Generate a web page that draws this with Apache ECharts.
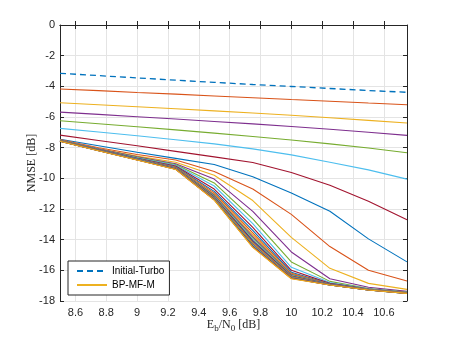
<!DOCTYPE html>
<html>
<head>
<meta charset="utf-8">
<title>NMSE vs Eb/N0</title>
<script src="https://cdn.jsdelivr.net/npm/echarts@6/dist/echarts.min.js"></script>
<style>
html, body { margin: 0; padding: 0; background: #fff; }
#main { width: 450px; height: 338px; }
</style>
</head>
<body>
<div id="main"></div>
<script>
// Eb/N0 points (dB)
var snr = [8.5, 8.75, 9, 9.25, 9.5, 9.75, 10, 10.25, 10.5, 10.75];
var xTicks = [8.6, 8.8, 9, 9.2, 9.4, 9.6, 9.8, 10, 10.2, 10.4, 10.6];

// dashed reference curve
var initialTurbo = [-3.15, -3.3, -3.45, -3.6, -3.74, -3.88, -4.01, -4.14, -4.27, -4.39];

// BP-MF-M, one row per iteration
var bpmfm = [
  [-4.17, -4.28, -4.4, -4.51, -4.63, -4.74, -4.86, -4.97, -5.09, -5.2],
  [-5.07, -5.2, -5.33, -5.46, -5.6, -5.74, -5.89, -6.05, -6.22, -6.39],
  [-5.68, -5.83, -5.98, -6.13, -6.29, -6.45, -6.62, -6.8, -6.99, -7.2],
  [-6.24, -6.44, -6.64, -6.84, -7.05, -7.27, -7.5, -7.75, -8.02, -8.33],
  [-6.74, -6.98, -7.22, -7.48, -7.75, -8.08, -8.47, -8.95, -9.45, -10.05],
  [-7.18, -7.53, -7.88, -8.24, -8.6, -8.97, -9.62, -10.45, -11.5, -12.7],
  [-7.45, -7.88, -8.3, -8.7, -9.1, -9.9, -10.95, -12.15, -13.95, -15.45],
  [-7.47, -8.0, -8.45, -8.8, -9.55, -10.7, -12.35, -14.45, -16.0, -16.7],
  [-7.5, -8.05, -8.55, -8.95, -9.8, -11.45, -13.85, -15.87, -16.85, -17.24],
  [-7.5, -8.08, -8.6, -9.05, -10.05, -12.15, -14.8, -16.55, -17.1, -17.37],
  [-7.52, -8.1, -8.63, -9.1, -10.3, -12.65, -15.45, -16.72, -17.18, -17.42],
  [-7.52, -8.12, -8.66, -9.15, -10.5, -12.95, -15.8, -16.8, -17.2, -17.44],
  [-7.53, -8.13, -8.69, -9.2, -10.7, -13.2, -16.0, -16.85, -17.22, -17.45],
  [-7.54, -8.14, -8.71, -9.24, -10.85, -13.4, -16.12, -16.88, -17.24, -17.46],
  [-7.54, -8.15, -8.73, -9.27, -10.95, -13.55, -16.2, -16.9, -17.25, -17.47],
  [-7.55, -8.15, -8.74, -9.29, -11.03, -13.68, -16.24, -16.91, -17.25, -17.47],
  [-7.55, -8.16, -8.74, -9.3, -11.09, -13.8, -16.28, -16.91, -17.26, -17.48],
  [-7.55, -8.16, -8.75, -9.31, -11.14, -13.9, -16.31, -16.92, -17.26, -17.48],
  [-7.56, -8.17, -8.75, -9.32, -11.18, -13.98, -16.34, -16.92, -17.26, -17.48],
  [-7.56, -8.17, -8.76, -9.33, -11.22, -14.06, -16.37, -16.93, -17.27, -17.48],
  [-7.56, -8.17, -8.76, -9.34, -11.25, -14.13, -16.39, -16.93, -17.27, -17.49],
  [-7.57, -8.18, -8.77, -9.35, -11.28, -14.2, -16.41, -16.94, -17.27, -17.49],
  [-7.57, -8.18, -8.77, -9.36, -11.3, -14.25, -16.43, -16.94, -17.27, -17.49],
  [-7.57, -8.18, -8.78, -9.37, -11.32, -14.3, -16.45, -16.94, -17.28, -17.49],
  [-7.57, -8.19, -8.78, -9.38, -11.34, -14.34, -16.47, -16.95, -17.28, -17.5],
  [-7.58, -8.19, -8.78, -9.39, -11.36, -14.38, -16.49, -16.95, -17.28, -17.5],
  [-7.58, -8.19, -8.79, -9.4, -11.38, -14.42, -16.5, -16.95, -17.28, -17.5],
  [-7.58, -8.2, -8.79, -9.4, -11.39, -14.45, -16.52, -16.96, -17.28, -17.5],
  [-7.58, -8.2, -8.8, -9.41, -11.41, -14.48, -16.53, -16.96, -17.28, -17.5],
  [-7.58, -8.2, -8.8, -9.42, -11.42, -14.5, -16.55, -16.96, -17.28, -17.5]
];

// matlab default colour order
var colorOrder = ['#0072BD', '#D95319', '#EDB120', '#7E2F8E', '#77AC30', '#4DBEEE', '#A2142F'];

var axisColor = '#262626';
var gridColor = '#e4e4e4';
var sans = 'Liberation Sans, Arial, sans-serif';
var serif = 'Liberation Serif, Times New Roman, serif';

function pairs(ys) {
  return snr.map(function (x, i) { return [x, ys[i]]; });
}

var series = [{
  name: 'Initial-Turbo',
  type: 'line',
  data: pairs(initialTurbo),
  symbol: 'none',
  color: colorOrder[0],
  lineStyle: { width: 1.3, type: [6, 4] }
}];

bpmfm.forEach(function (row, k) {
  var last = k == bpmfm.length - 1;
  series.push({
    name: last ? 'BP-MF-M' : 'iter' + (k + 1),
    type: 'line',
    data: pairs(row),
    symbol: 'none',
    color: colorOrder[(k + 1) % 7],
    lineStyle: { width: 1.1 }
  });
});

var chart = echarts.init(document.getElementById('main'));
var option = {
  animation: false,
  backgroundColor: '#fff',
  grid: { left: 60, right: 43, top: 25, bottom: 37 },
  legend: {
    data: ['Initial-Turbo', 'BP-MF-M'],
    orient: 'vertical',
    left: 68,
    top: 261,
    backgroundColor: '#fff',
    borderColor: axisColor,
    borderWidth: 1,
    borderRadius: 0,
    padding: [5, 5, 5, 8],
    itemWidth: 30,
    itemHeight: 10,
    itemGap: 4,
    itemStyle: { opacity: 0 },
    textStyle: { fontFamily: sans, fontSize: 10, color: '#000' }
  },
  xAxis: [{
    type: 'value',
    min: 8.5,
    max: 10.75,
    name: '{n|E}{s|b}{n|/N}{s|0}{n| [dB]}',
    nameLocation: 'middle',
    nameGap: 16,
    nameMoveOverlap: false,
    nameTextStyle: {
      rich: {
        n: { fontFamily: serif, fontSize: 12, color: axisColor, lineHeight: 14 },
        s: { fontFamily: serif, fontSize: 9, color: axisColor, padding: [7, 0, 0, 0] }
      }
    },
    axisLine: { lineStyle: { color: axisColor, width: 1 } },
    axisTick: { inside: true, length: 4, customValues: xTicks, lineStyle: { color: axisColor } },
    axisLabel: {
      customValues: xTicks,
      margin: 6,
      fontFamily: sans,
      fontSize: 11,
      color: axisColor,
      formatter: function (v) { return String(+v.toFixed(1)); }
    },
    splitLine: { show: true, lineStyle: { color: gridColor, width: 1 } }
  }, {
    type: 'value',
    position: 'top',
    min: 8.5,
    max: 10.75,
    axisLine: { lineStyle: { color: axisColor, width: 1 } },
    axisTick: { inside: true, length: 4, customValues: xTicks, lineStyle: { color: axisColor } },
    axisLabel: { show: false },
    splitLine: { show: false }
  }],
  yAxis: [{
    type: 'value',
    min: -18,
    max: 0,
    interval: 2,
    name: 'NMSE [dB]',
    nameLocation: 'middle',
    nameGap: 22,
    nameMoveOverlap: false,
    nameTextStyle: { fontFamily: serif, fontSize: 12, color: axisColor },
    axisLine: { show: true, lineStyle: { color: axisColor, width: 1 } },
    axisTick: { show: true, inside: true, length: 4, lineStyle: { color: axisColor } },
    axisLabel: { margin: 5, fontFamily: sans, fontSize: 11, color: axisColor },
    splitLine: { show: true, lineStyle: { color: gridColor, width: 1 } }
  }, {
    type: 'value',
    position: 'right',
    min: -18,
    max: 0,
    interval: 2,
    axisLine: { show: true, lineStyle: { color: axisColor, width: 1 } },
    axisTick: { show: true, inside: true, length: 4, lineStyle: { color: axisColor } },
    axisLabel: { show: false },
    splitLine: { show: false }
  }],
  series: series
};
chart.setOption(option);
</script>
</body>
</html>
